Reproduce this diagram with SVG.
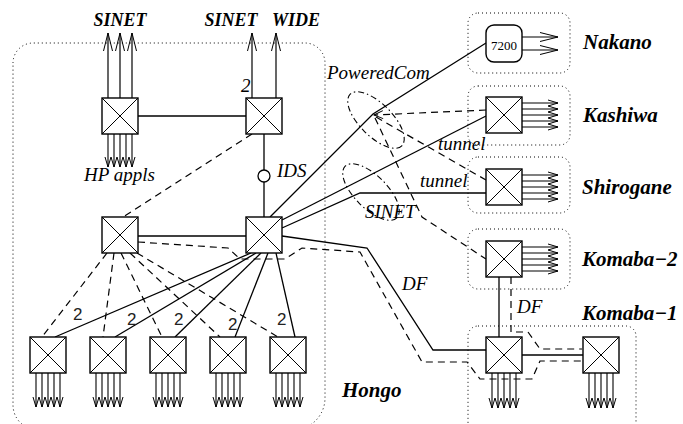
<svg xmlns="http://www.w3.org/2000/svg" width="683" height="424" viewBox="0 0 683 424">
<style>
.sw{fill:#fff;stroke:#000;stroke-width:1.4}
.sx{fill:none;stroke:#000;stroke-width:1}
.ln{fill:none;stroke:#000;stroke-width:1.3}
.da{fill:none;stroke:#000;stroke-width:1.2;stroke-dasharray:7 5}
.dd{fill:none;stroke:#000;stroke-width:1.1;stroke-dasharray:6 3 1.5 3}
.grp{fill:none;stroke:#000;stroke-width:1;stroke-dasharray:1 3}
.ab{fill:none;stroke:#000;stroke-width:1.2;marker-end:url(#ah)}
.as{fill:none;stroke:#000;stroke-width:1.1;marker-end:url(#as)}
.lb{font-family:"Liberation Serif","Times New Roman",serif;font-style:italic;font-size:19px;fill:#000}
.gl{font-family:"Liberation Serif","Times New Roman",serif;font-style:italic;font-weight:bold;font-size:21px;fill:#000}
.tl{font-family:"Liberation Serif","Times New Roman",serif;font-style:italic;font-weight:bold;font-size:18px;fill:#000}
.nm{font-family:"Liberation Sans",Arial,sans-serif;font-size:17px;fill:#222}
</style>
<defs>
<marker id="ah" markerUnits="userSpaceOnUse" viewBox="-20 -6 22 12" refX="0" refY="0" markerWidth="22" markerHeight="12" orient="auto" overflow="visible"><path d="M-18,-4.5 L0,0 L-18,4.5" fill="none" stroke="#000" stroke-width="1"/></marker>
<marker id="as" markerUnits="userSpaceOnUse" viewBox="-12 -4 14 8" refX="0" refY="0" markerWidth="14" markerHeight="8" orient="auto" overflow="visible"><path d="M-10,-3 L0,0 L-10,3" fill="none" stroke="#000" stroke-width="1"/></marker>
<marker id="at" markerUnits="userSpaceOnUse" viewBox="-12 -5 14 10" refX="0" refY="0" markerWidth="14" markerHeight="10" orient="auto" overflow="visible"><path d="M-9,-4 L0,0 L-9,4" fill="none" stroke="#000" stroke-width="1"/></marker>
<g id="swsym"><rect class="sw" x="0" y="0" width="36" height="36"/><path class="sx" d="M0,0 L36,36 M36,0 L0,36"/></g>
</defs>
<rect width="683" height="424" fill="#fff"/>

<g id="areas">
<path class="grp" d="M13,63 A20,20 0 0 1 33,43 H305 A20,20 0 0 1 325,63 V398 A32,32 0 0 1 293,430 H38 A25,25 0 0 1 13,405 Z"/>
<rect class="grp" x="468" y="13" width="102" height="60" rx="10"/>
<rect class="grp" x="468" y="86" width="102" height="59" rx="10"/>
<rect class="grp" x="468" y="157" width="102" height="56" rx="10"/>
<rect class="grp" x="468" y="229" width="102" height="60" rx="10"/>
<rect class="grp" x="468" y="326" width="168" height="120" rx="10"/>
</g>

<g id="connectors">
<path class="ln" d="M138,116 H246"/>
<path class="ab" d="M108,98 V33"/>
<path class="ab" d="M120,98 V33"/>
<path class="ab" d="M132,98 V33"/>
<path class="ab" d="M252,98 V33"/>
<path class="ab" d="M276,98 V33"/>
<path class="as" d="M108,134 V167"/>
<path class="as" d="M114,134 V167"/>
<path class="as" d="M120,134 V167"/>
<path class="as" d="M126,134 V167"/>
<path class="as" d="M132,134 V167"/>
<path class="ln" d="M264,134 V170 M264,182 V217"/>
<path class="da" d="M252,134 L123,217"/>
<path class="ln" d="M138,236 H246"/>
<path class="da" d="M138,242 L228,248 L240,259 L285,259 L302,248 L360,252 L422,362 L467,362 L480,379 L532,379 L540,361 L582,361"/>
<path class="ln" d="M282,236 L367,248 L433,350 L486,350"/>
<path class="ln" d="M522,355 H583"/>
<path class="da" d="M511,277 V332 H528 L540,349 H582"/>
<path class="ln" d="M499,277 V337"/>
<path class="ln" d="M270,217 L373,114 L486,43"/>
<path class="ln" d="M282,220 L486,116"/>
<path class="ln" d="M282,228 L360,193 H486"/>
<path class="da" d="M486,110 L374,115" style="marker-end:url(#at)"/>
<path class="da" d="M376,117 L486,180"/>
<path class="da" d="M375,118 L422,217 L486,259"/>
<path class="ln" d="M251,253 L55,337"/>
<path class="ln" d="M256,253 L115,337"/>
<path class="ln" d="M261,253 L175,337"/>
<path class="ln" d="M268,253 L235,337"/>
<path class="ln" d="M276,253 L295,337"/>
<path class="da" d="M107,253 L42,337"/>
<path class="da" d="M114,253 L103,337"/>
<path class="da" d="M121,253 L162,337"/>
<path class="da" d="M130,253 L220,337"/>
<path class="da" d="M137,253 L278,337"/>
<g class="as">
<path d="M36,373 V407"/><path d="M42,373 V407"/><path d="M48,373 V407"/><path d="M54,373 V407"/><path d="M60,373 V407"/>
<path d="M96,373 V407"/><path d="M102,373 V407"/><path d="M108,373 V407"/><path d="M114,373 V407"/><path d="M120,373 V407"/>
<path d="M156,373 V407"/><path d="M162,373 V407"/><path d="M168,373 V407"/><path d="M174,373 V407"/><path d="M180,373 V407"/>
<path d="M216,373 V407"/><path d="M222,373 V407"/><path d="M228,373 V407"/><path d="M234,373 V407"/><path d="M240,373 V407"/>
<path d="M276,373 V407"/><path d="M282,373 V407"/><path d="M288,373 V407"/><path d="M294,373 V407"/><path d="M300,373 V407"/>
<path d="M492,373 V408"/><path d="M498,373 V408"/><path d="M504,373 V408"/><path d="M510,373 V408"/><path d="M516,373 V408"/>
<path d="M589,373 V408"/><path d="M595,373 V408"/><path d="M601,373 V408"/><path d="M607,373 V408"/><path d="M613,373 V408"/>
<path d="M522,103 H558"/><path d="M522,109 H558"/><path d="M522,115 H558"/><path d="M522,121 H558"/><path d="M522,127 H558"/>
<path d="M522,175 H558"/><path d="M522,181 H558"/><path d="M522,187 H558"/><path d="M522,193 H558"/><path d="M522,199 H558"/>
<path d="M522,247 H558"/><path d="M522,253 H558"/><path d="M522,259 H558"/><path d="M522,265 H558"/><path d="M522,271 H558"/>
</g>
<path class="ab" d="M522,37 H558"/>
<path class="ab" d="M522,50 H558"/>
</g>

<g id="tunnels">
<ellipse class="dd" cx="376" cy="120" rx="36.5" ry="16.3" transform="rotate(45 376 120)"/>
<ellipse class="dd" cx="371" cy="192" rx="36.5" ry="16.3" transform="rotate(45 371 192)"/>
</g>

<g id="sw-top-left"><use href="#swsym" x="102" y="98"/></g>
<g id="sw-top-right"><use href="#swsym" x="246" y="98"/></g>
<g id="sw-mid-left"><use href="#swsym" x="102" y="217"/></g>
<g id="sw-core"><use href="#swsym" x="246" y="217"/></g>
<g id="ids"><circle cx="264" cy="176" r="6" fill="#fff" stroke="#000" stroke-width="1.3"/></g>
<g id="sw-b1"><use href="#swsym" x="30" y="337"/></g>
<g id="sw-b2"><use href="#swsym" x="90" y="337"/></g>
<g id="sw-b3"><use href="#swsym" x="150" y="337"/></g>
<g id="sw-b4"><use href="#swsym" x="210" y="337"/></g>
<g id="sw-b5"><use href="#swsym" x="270" y="337"/></g>
<g id="nakano-7200"><rect x="486" y="25" width="36" height="37" rx="8" fill="#fff" stroke="#000" stroke-width="1.4"/><text x="504" y="50" text-anchor="middle" font-family="Liberation Serif, serif" font-size="13">7200</text></g>
<g id="sw-kashiwa"><use href="#swsym" x="486" y="97"/></g>
<g id="sw-shirogane"><use href="#swsym" x="486" y="169"/></g>
<g id="sw-komaba2"><use href="#swsym" x="486" y="241"/></g>
<g id="sw-komaba1a"><use href="#swsym" x="486" y="337"/></g>
<g id="sw-komaba1b"><use href="#swsym" x="583" y="337"/></g>

<g id="labels">
<text class="tl" x="120" y="26" text-anchor="middle">SINET</text>
<text class="tl" x="231" y="26" text-anchor="middle">SINET</text>
<text class="tl" x="296" y="26" text-anchor="middle">WIDE</text>
<text class="lb" x="241" y="92" font-size="18">2</text>
<text class="lb" x="277" y="177">IDS</text>
<text class="lb" x="84" y="181">HP appls</text>
<text class="lb" x="327" y="79">PoweredCom</text>
<text class="lb" x="438" y="150">tunnel</text>
<text class="lb" x="420" y="187">tunnel</text>
<text class="lb" x="365" y="218">SINET</text>
<text class="lb" x="402" y="290">DF</text>
<text class="lb" x="517" y="313">DF</text>
<text class="nm" x="73" y="320">2</text>
<text class="nm" x="127" y="325">2</text>
<text class="nm" x="174" y="325">2</text>
<text class="nm" x="228" y="330">2</text>
<text class="nm" x="277" y="325">2</text>
<text class="gl" x="583" y="49">Nakano</text>
<text class="gl" x="583" y="122">Kashiwa</text>
<text class="gl" x="582" y="194">Shirogane</text>
<text class="gl" x="582" y="266">Komaba−2</text>
<text class="gl" x="582" y="320">Komaba−1</text>
<text class="gl" x="342" y="397">Hongo</text>
</g>
</svg>
